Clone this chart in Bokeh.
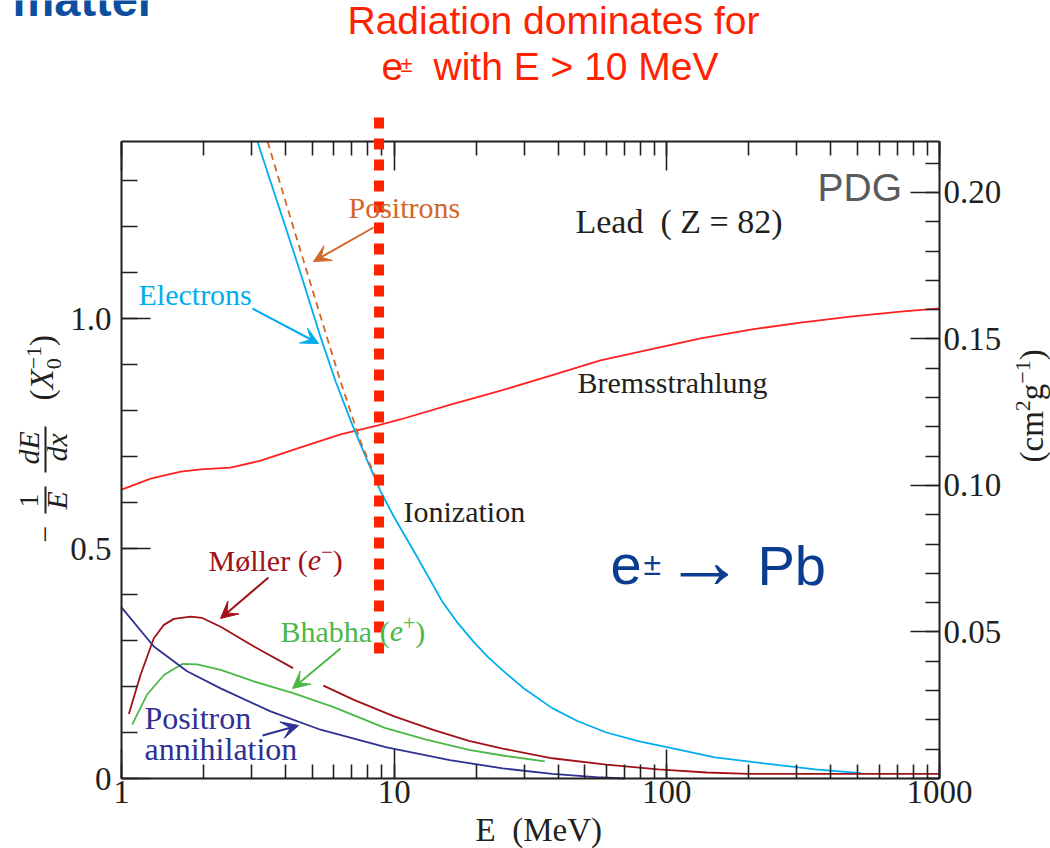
import math

import numpy as np
from bokeh.embed import file_html
from bokeh.models import (Arrow, CustomJSTickFormatter, Label, LinearAxis, LogAxis,
                          LogTicker, Range1d, SingleIntervalTicker, VeeHead)
from bokeh.plotting import figure
from bokeh.resources import INLINE

# ---------------------------------------------------------------------------
# Fractional energy loss per radiation length in lead, -(1/E) dE/dx  [X0^-1]
# versus electron / positron energy E [MeV]
# ---------------------------------------------------------------------------
electron_energy = [3.0, 3.16, 3.52, 4.0, 4.5, 5.37, 6.1, 7.0, 8.0, 8.92, 10, 12, 15,
                   17, 19.5, 22, 25, 30, 38, 47, 60, 80, 100, 150, 227, 350, 515]
electron_loss = [1.476, 1.383, 1.298, 1.198, 1.105, 0.960, 0.863, 0.771, 0.689, 0.624,
                 0.568, 0.487, 0.385, 0.340, 0.298, 0.265, 0.235, 0.195, 0.153, 0.125,
                 0.100, 0.080, 0.068, 0.046, 0.033, 0.020, 0.0115]

positron_energy = [3.3, 3.44, 4.17, 5.07, 6.36, 7.5, 8.8]
positron_loss = [1.43, 1.383, 1.218, 1.053, 0.863, 0.735, 0.635]

brems_energy = [1.0, 1.28, 1.65, 1.95, 2.51, 3.24, 4.54, 6.36, 8.8, 10.6, 16.1, 24.6,
                37.5, 57.1, 87.1, 133, 203, 309, 472, 720, 1000]
brems_loss = [0.628, 0.652, 0.667, 0.672, 0.676, 0.691, 0.720, 0.748, 0.768, 0.781,
              0.813, 0.843, 0.876, 0.909, 0.933, 0.957, 0.976, 0.991, 1.004, 1.015,
              1.022]

moller_low_energy = [1.064, 1.174, 1.314, 1.43, 1.556, 1.79, 1.977, 2.31, 3.06, 4.26]
moller_low_loss = [0.140, 0.225, 0.305, 0.334, 0.347, 0.352, 0.349, 0.330, 0.287, 0.240]
moller_high_energy = [5.5, 7.12, 10, 14, 18.8, 25, 38, 60, 93, 140, 200, 1000]
moller_high_loss = [0.202, 0.171, 0.135, 0.105, 0.082, 0.065, 0.044, 0.030, 0.020,
                    0.013, 0.010, 0.010]

bhabha_energy = [1.094, 1.24, 1.43, 1.67, 1.895, 2.31, 3.06, 4.29, 6, 9.24, 13, 18.8,
                 25, 35.7]
bhabha_loss = [0.117, 0.182, 0.225, 0.249, 0.248, 0.236, 0.211, 0.185, 0.155, 0.110,
               0.085, 0.062, 0.050, 0.037]

annihilation_energy = [1.0, 1.314, 1.74, 2.31, 3.52, 5.37, 9.3, 16, 25, 38, 55, 70]
annihilation_loss = [0.372, 0.287, 0.233, 0.196, 0.146, 0.106, 0.068, 0.040, 0.022,
                     0.010, 0.003, 0.0]

critical_energy = 8.8          # MeV, where the dotted marker is drawn
x0_lead = 6.37                 # radiation length of lead, g cm^-2

energy_bounds = (1.0, 1000.0)
x_minor_per_decade = 10
y_major_step, y_minor_count = 0.5, 5
mass_major_step, mass_minor_count = 0.05, 5

# ---------------------------------------------------------------------------
SERIF = "Liberation Serif"
SANS = "Liberation Sans"
INK = "#231f20"
C_ELECTRON = "#00aeef"
C_POSITRON = "#d2672a"
C_BREMS = "#ff2020"
C_MOLLER = "#a0121a"
C_BHABHA = "#4cb848"
C_ANNIH = "#2e3192"
C_ALERT = "#ff2200"
C_BLUE = "#0b3c8f"

W, H = 1050, 848
BOX_L, BOX_R, BOX_T, BOX_B = 121, 939, 141, 778      # plot box on the page
PX_PER_UNIT = 460.0
E_LO, E_HI = energy_bounds
Y_HI = (BOX_B - BOX_T) / PX_PER_UNIT
BASELINE_LIFT = 0.4        # em offset between the requested and drawn baseline


def dx(px):
    """page x pixel -> energy"""
    return E_LO * 10 ** ((px - BOX_L) / (BOX_R - BOX_L) * math.log10(E_HI / E_LO))


def dy(py):
    """page y pixel -> loss value"""
    return (BOX_B - py) / PX_PER_UNIT


# The frame spans the whole page; the axes are pinned to the box edges so that
# headings and axis titles can sit anywhere around the box.
p = figure(width=W, height=H, x_axis_type="log",
           x_range=Range1d(dx(0), dx(W)), y_range=Range1d(dy(H), dy(0)),
           min_border=0, output_backend="svg", toolbar_location=None,
           background_fill_color="white", border_fill_color="white")
p.title.visible = False
p.xgrid.visible = False
p.ygrid.visible = False
p.outline_line_color = None


def style_axis(ax, location, bounds):
    ax.fixed_location = location
    ax.bounds = bounds
    ax.axis_line_color = INK
    ax.axis_line_width = 2
    ax.major_tick_line_color = INK
    ax.minor_tick_line_color = INK
    ax.major_tick_line_width = 1.6
    ax.minor_tick_line_width = 1.6
    ax.major_tick_in = 29
    ax.major_tick_out = 0
    ax.minor_tick_in = 14
    ax.minor_tick_out = 0
    ax.major_label_text_font = SERIF
    ax.major_label_text_font_size = "33px"
    ax.major_label_text_color = INK


xb = p.xaxis[0]
xb.ticker = LogTicker(num_minor_ticks=x_minor_per_decade)
xb.formatter = CustomJSTickFormatter(code="return Math.round(tick).toString()")
style_axis(xb, 0.0, energy_bounds)
xb.major_label_standoff = 2

yl = p.yaxis[0]
yl.ticker = SingleIntervalTicker(interval=y_major_step, num_minor_ticks=y_minor_count)
yl.formatter = CustomJSTickFormatter(code="return tick == 0 ? '0' : tick.toFixed(1)")
style_axis(yl, E_LO, (0.0, Y_HI))
yl.minor_tick_in = 16
yl.major_label_standoff = 10

xt = LogAxis(ticker=LogTicker(num_minor_ticks=x_minor_per_decade),
             formatter=CustomJSTickFormatter(code="return ''"))
style_axis(xt, Y_HI, energy_bounds)
p.add_layout(xt, "above")

p.extra_y_ranges = {"mass": Range1d(dy(H) / x0_lead, dy(0) / x0_lead)}
yr = LinearAxis(y_range_name="mass",
                ticker=SingleIntervalTicker(interval=mass_major_step,
                                            num_minor_ticks=mass_minor_count),
                formatter=CustomJSTickFormatter(
                    code="return tick < 0.001 ? '' : tick.toFixed(2)"))
style_axis(yr, E_HI, (0.0, Y_HI / x0_lead))
yr.major_label_standoff = 4
p.add_layout(yr, "right")


def under_ceiling(energy, loss, ceiling):
    """Cut a falling curve where it leaves the top of the box."""
    le = np.log10(np.asarray(energy, dtype=float))
    lv = np.asarray(loss, dtype=float)
    i = int(np.argmax(lv <= ceiling))
    if i == 0:
        return list(energy), list(loss)
    t = (lv[i - 1] - ceiling) / (lv[i - 1] - lv[i])
    e_cross = 10 ** (le[i - 1] + t * (le[i] - le[i - 1]))
    return [e_cross] + list(10 ** le[i:]), [ceiling] + list(lv[i:])


# ---- curves ---------------------------------------------------------------
LW = 1.8
p.line(brems_energy, brems_loss, line_color=C_BREMS, line_width=LW)
ex, ey = under_ceiling(electron_energy, electron_loss, Y_HI)
p.line(ex, ey, line_color=C_ELECTRON, line_width=LW)
qx, qy = under_ceiling(positron_energy, positron_loss, Y_HI)
p.line(qx, qy, line_color=C_POSITRON, line_width=LW, line_dash="7 5")
p.line(moller_low_energy, moller_low_loss, line_color=C_MOLLER, line_width=LW)
p.line(moller_high_energy, moller_high_loss, line_color=C_MOLLER, line_width=LW)
p.line(bhabha_energy, bhabha_loss, line_color=C_BHABHA, line_width=LW)
p.line(annihilation_energy, annihilation_loss, line_color=C_ANNIH, line_width=LW)

# dotted marker for the energy above which radiation dominates
p.add_layout(Arrow(start=None, end=None, x_start=critical_energy, x_end=critical_energy,
                   y_start=dy(117), y_end=dy(663), line_color=C_ALERT, line_width=10,
                   line_dash="11 10", line_cap="butt"))

# ---- text helpers -----------------------------------------------------------
TIMES = {" ": .25, "\u00a0": .25, "(": .333, ")": .333, "M": .889, "\u00f8": .5,
         "l": .278, "e": .444, "r": .333, "B": .667, "h": .5, "a": .444, "b": .5,
         "\u2212": .564, "+": .564, "1": .5, "2": .5, "0": .5, "c": .444, "m": .778,
         "g": .5, "X": .611, "E": .611, "d": .5, "x": .444}
ARIAL = {" ": .278, "e": .556, "\u00b1": .584, "w": .722, "i": .222, "t": .278,
         "h": .556, "E": .667, ">": .584, "1": .556, "0": .556, "M": .833, "V": .667}


def width(text, size, family):
    table = ARIAL if family == SANS else TIMES
    return sum(table.get(ch, 0.5) for ch in text) * size


def label(text, px, py, size, color, family=SERIF, style="normal", vertical=False):
    """Place a text with its alphabetic baseline start at page pixel (px, py)."""
    lift = BASELINE_LIFT * size
    if vertical:
        px, angle = px - lift, math.pi / 2
    else:
        py, angle = py - lift, 0.0
    p.add_layout(Label(x=dx(px), y=dy(py), text=text, text_font=family,
                       text_font_size=f"{size}px", text_font_style=style,
                       text_color=color, text_align="left", text_baseline="alphabetic",
                       angle=angle))


def rich(pieces, px, py, color, family=SERIF, vertical=False):
    """Lay out (text, size, style, rise, advance) runs from a baseline point."""
    pos = 0.0
    for text, size, style, rise, advance in pieces:
        if vertical:
            label(text, px - rise, py - pos, size, color, family, style, vertical=True)
        else:
            label(text, px + pos, py - rise, size, color, family, style)
        if advance:
            pos += width(text, size, family)


def pointer(x0, y0, x1, y1, color):
    p.add_layout(Arrow(x_start=dx(x0), y_start=dy(y0), x_end=dx(x1), y_end=dy(y1),
                       line_color=color, line_width=2,
                       end=VeeHead(size=17, fill_color=color, line_color=color)))


def bar(x, y0, y1, w=2):
    p.add_layout(Arrow(start=None, end=None, x_start=dx(x), x_end=dx(x),
                       y_start=dy(y0), y_end=dy(y1), line_color=INK, line_width=w))


# ---- heading ----------------------------------------------------------------
label("matter", 12, 18, 47, "#0d4e9e", SANS, "bold")
label("Radiation dominates for", 347, 36, 39, C_ALERT, SANS)
label("e", 381, 82, 39, C_ALERT, SANS)
label("\u00b1", 400, 73, 22, C_ALERT, SANS)
label("with E > 10 MeV", 433, 82, 39, C_ALERT, SANS)

# ---- in-plot annotations ------------------------------------------------------
label("PDG", 817, 203, 39, "#5a5a5a", SANS)
label("Lead\u00a0\u00a0(\u00a0Z = 82)", 575, 235, 34, INK)
label("Bremsstrahlung", 577, 394, 30, INK)
label("Ionization", 403, 523, 30, INK)

label("Positrons", 348, 219, 30, C_POSITRON)
pointer(373, 227, 313, 261, C_POSITRON)

label("Electrons", 138, 306, 30, C_ELECTRON)
pointer(252, 308, 318, 343, C_ELECTRON)

rich([("M\u00f8ller (", 30, "normal", 0, True), ("e", 30, "italic", 0, True),
      ("\u2212", 21, "normal", 12, True), (")", 30, "normal", 0, True)],
     208, 572, C_MOLLER)
pointer(268, 577, 220, 618, C_MOLLER)

rich([("Bhabha (", 30, "normal", 0, True), ("e", 30, "italic", 0, True),
      ("+", 22, "normal", 12, True), (")", 30, "normal", 0, True)],
     280, 643, C_BHABHA)
pointer(340, 648, 292, 688, C_BHABHA)

label("Positron", 144, 730, 32, C_ANNIH)
label("annihilation", 144, 761, 32, C_ANNIH)
pointer(262, 735, 298, 725, C_ANNIH)

label("e", 610, 587, 56, C_BLUE, SANS)
label("\u00b1", 643, 576, 32, C_BLUE, SANS)
label("\u2192", 664, 592, 80, C_BLUE, SANS)
label("Pb", 757, 587, 56, C_BLUE, SANS)

# ---- axis titles ----------------------------------------------------------------
label("E\u00a0\u00a0(MeV)", 475, 843, 33, INK)

label("\u2212", 57, 542, 30, INK, vertical=True)
label("1", 40, 507, 28, INK, vertical=True)
label("E", 68, 509, 30, INK, style="italic", vertical=True)
bar(45, 486, 513)
label("dE", 40, 464, 30, INK, style="italic", vertical=True)
label("dx", 68, 461, 30, INK, style="italic", vertical=True)
bar(45, 426, 472)
rich([("(", 33, "normal", 0, True), ("X", 33, "italic", 0, True),
      ("0", 22, "normal", -7, False), ("\u22121", 22, "normal", 13, True),
      (")", 33, "normal", 0, True)], 55, 400, INK, vertical=True)

rich([("(cm", 33, "normal", 0, True), ("2", 22, "normal", 14, True),
      ("g", 33, "normal", 0, True), ("\u22121", 22, "normal", 14, True),
      (")", 33, "normal", 0, True)], 1045, 462, INK, vertical=True)

open("out.html", "w").write(file_html(p, INLINE))
